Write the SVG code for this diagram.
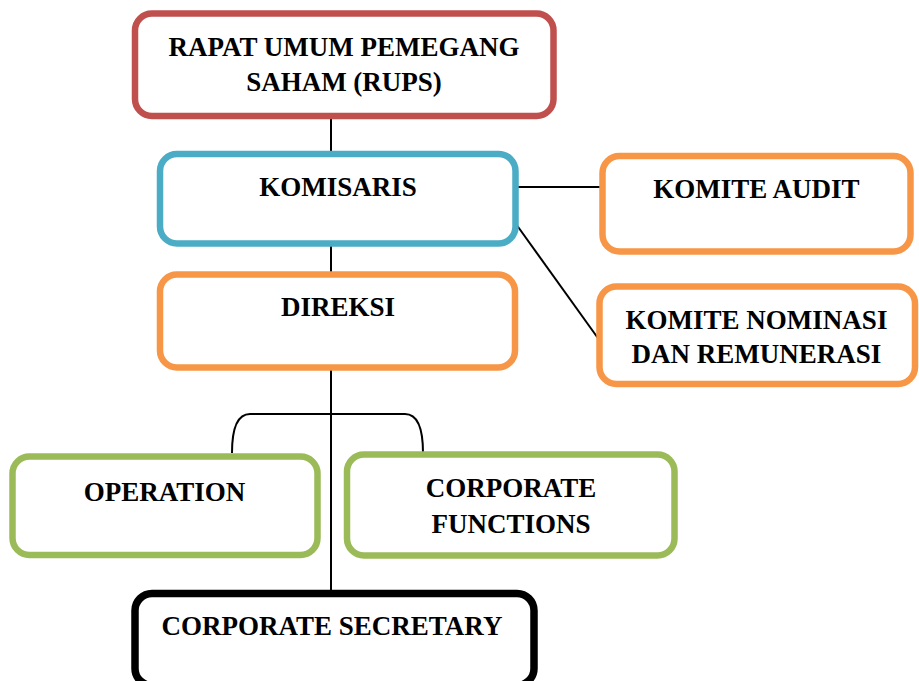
<svg xmlns="http://www.w3.org/2000/svg" width="919" height="681" viewBox="0 0 919 681">
<style>
.box{fill:#fff;stroke-width:6.5}
.red{stroke:#C0504D}
.blue{stroke:#4BACC6}
.orange{stroke:#F79646}
.green{stroke:#9BBB59}
.black{stroke:#000;stroke-width:7.5}
.t{font-family:"Liberation Serif","Times New Roman",serif;font-weight:bold;font-size:27px;fill:#000;text-anchor:middle}
.c{stroke:#000;stroke-width:2;fill:none}
</style>
<rect width="919" height="681" fill="#fff"/>
<g id="connectors">
<line class="c" x1="331" y1="118" x2="331" y2="152"/>
<line class="c" x1="331" y1="246" x2="331" y2="272"/>
<line class="c" x1="331" y1="370" x2="331" y2="591"/>
<line class="c" x1="518" y1="187" x2="600" y2="187"/>
<line class="c" x1="516" y1="224" x2="600" y2="341"/>
<path class="c" d="M232,453 C232,426 238,414 250,414 L405,414 C417,414 423,426 423,453"/>
</g>
<g id="rups">
<rect class="box red" x="135" y="13.5" width="418.5" height="102.5" rx="17"/>
<text class="t" x="344" y="56">RAPAT UMUM PEMEGANG</text>
<text class="t" x="344" y="91">SAHAM (RUPS)</text>
</g>
<g id="komisaris">
<rect class="box blue" x="160" y="154" width="355.5" height="89.5" rx="17"/>
<text class="t" x="338" y="196">KOMISARIS</text>
</g>
<g id="direksi">
<rect class="box orange" x="160" y="274.5" width="355" height="93" rx="17"/>
<text class="t" x="338" y="316">DIREKSI</text>
</g>
<g id="komite-audit">
<rect class="box orange" x="602.5" y="156" width="308" height="95.5" rx="17"/>
<text class="t" x="756.5" y="198">KOMITE AUDIT</text>
</g>
<g id="komite-nominasi">
<rect class="box orange" x="599.5" y="286.5" width="315.5" height="97.5" rx="17"/>
<text class="t" x="756.5" y="329">KOMITE NOMINASI</text>
<text class="t" x="756.5" y="363">DAN REMUNERASI</text>
</g>
<g id="operation">
<rect class="box green" x="12.5" y="456.5" width="305" height="98.5" rx="17"/>
<text class="t" x="164.5" y="501">OPERATION</text>
</g>
<g id="corporate-functions">
<rect class="box green" x="347" y="454.5" width="327.5" height="101" rx="17"/>
<text class="t" x="511" y="497">CORPORATE</text>
<text class="t" x="511" y="533">FUNCTIONS</text>
</g>
<g id="corporate-secretary">
<rect class="box black" x="135" y="593.5" width="399" height="92" rx="17"/>
<text class="t" x="332" y="635">CORPORATE SECRETARY</text>
</g>
</svg>
